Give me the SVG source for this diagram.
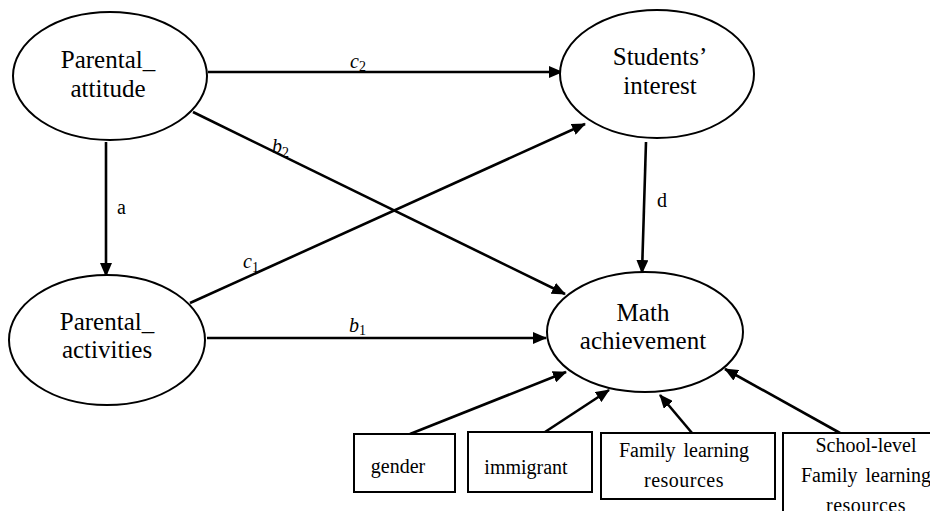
<svg xmlns="http://www.w3.org/2000/svg" width="930" height="511" viewBox="0 0 930 511">
<style>
.node ellipse{fill:#fff;stroke:#000;stroke-width:2}
.node rect{fill:#fff;stroke:#000;stroke-width:2}
.lbl{font-family:"Liberation Serif","Times New Roman",serif;font-size:25px;fill:#000;text-anchor:middle}
.sm{font-family:"Liberation Serif","Times New Roman",serif;font-size:20px;fill:#000;text-anchor:middle}
.edge line{stroke:#000;stroke-width:2.6;marker-end:url(#arr)}
.el{font-family:"Liberation Serif","Times New Roman",serif;font-size:20px;fill:#000}
.it{font-style:italic}
.sub{font-size:14px}
</style>
<defs>
<marker id="arr" markerUnits="userSpaceOnUse" markerWidth="14" markerHeight="12" refX="13" refY="6" orient="auto">
<path d="M0,0 L14,6 L0,12 Z" fill="#000"/>
</marker>
</defs>
<rect width="930" height="511" fill="#fff"/>
<g id="connectors" class="edge">
<line x1="208" y1="72" x2="562" y2="72"/>
<line x1="193" y1="112" x2="565" y2="294"/>
<line x1="106" y1="142" x2="106" y2="276"/>
<line x1="190" y1="303" x2="585" y2="124"/>
<line x1="207" y1="338" x2="546" y2="338"/>
<line x1="646" y1="142" x2="642" y2="273"/>
<line x1="410" y1="434" x2="566" y2="372"/>
<line x1="545" y1="432" x2="609" y2="390"/>
<line x1="692" y1="433" x2="660" y2="395"/>
<line x1="840" y1="433" x2="725" y2="369"/>
</g>
<g id="edge-labels">
<text class="el it" x="350" y="68">c<tspan class="sub" font-style="normal" dy="3">2</tspan></text>
<text class="el it" x="272" y="153">b<tspan class="sub" font-style="normal" dy="4">2</tspan></text>
<text class="el" x="117" y="214">a</text>
<text class="el it" x="243" y="268">c<tspan class="sub" font-style="normal" dy="4">1</tspan></text>
<text class="el it" x="349" y="332">b<tspan class="sub" font-style="normal" dy="3">1</tspan></text>
<text class="el" x="657" y="207">d</text>
</g>
<g id="parental_attitude" class="node">
<ellipse cx="110" cy="76" rx="97" ry="64"/>
<text class="lbl" x="108" y="68">Parental_</text>
<text class="lbl" x="108" y="97">attitude</text>
</g>
<g id="students_interest" class="node">
<ellipse cx="657" cy="74" rx="97" ry="64"/>
<text class="lbl" x="660" y="65">Students’</text>
<text class="lbl" x="660" y="94">interest</text>
</g>
<g id="parental_activities" class="node">
<ellipse cx="107" cy="340" rx="98" ry="65"/>
<text class="lbl" x="107" y="330">Parental_</text>
<text class="lbl" x="107" y="358">activities</text>
</g>
<g id="math_achievement" class="node">
<ellipse cx="645" cy="332" rx="98" ry="60"/>
<text class="lbl" x="643" y="321">Math</text>
<text class="lbl" x="643" y="349">achievement</text>
</g>
<g id="gender" class="node">
<rect x="354" y="434" width="101" height="58"/>
<text class="sm" x="398" y="473">gender</text>
</g>
<g id="immigrant" class="node">
<rect x="468" y="432" width="124" height="60"/>
<text class="sm" x="526" y="474">immigrant</text>
</g>
<g id="family_learning_resources" class="node">
<rect x="601" y="433" width="174" height="66"/>
<text class="sm" x="684" y="457" word-spacing="3">Family learning</text>
<text class="sm" x="684" y="487" letter-spacing="0.5">resources</text>
</g>
<g id="school_level_resources" class="node">
<rect x="783" y="433" width="170" height="90"/>
<text class="sm" x="866" y="452">School-level</text>
<text class="sm" x="866" y="482" word-spacing="3">Family learning</text>
<text class="sm" x="866" y="512" letter-spacing="0.5">resources</text>
</g>
</svg>
